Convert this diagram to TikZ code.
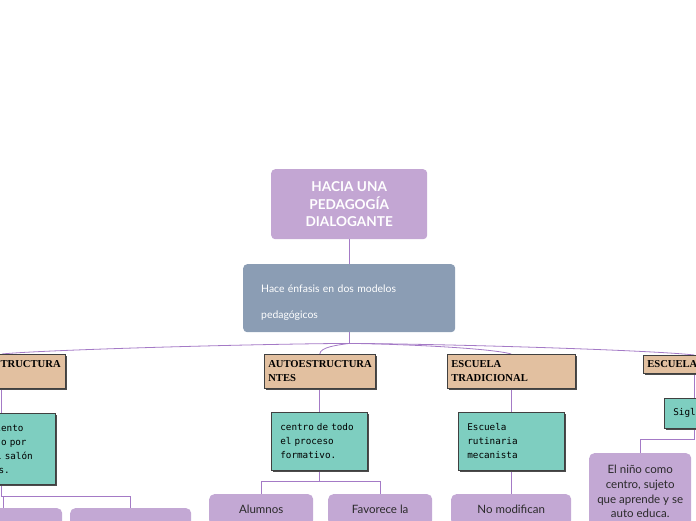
\documentclass[tikz,border=0pt]{standalone}
\usepackage{fontspec}
\setmainfont{Lato}
\newfontfamily\hdrfont{Liberation Serif}
\newfontfamily\tealfont{DejaVu Sans Mono}
\usetikzlibrary{shadows,backgrounds}
\definecolor{rootc}{HTML}{C3A6D3}
\definecolor{subc}{HTML}{8B9DB4}
\definecolor{tanc}{HTML}{E2C0A0}
\definecolor{tealc}{HTML}{7ECEC0}
\definecolor{purpc}{HTML}{C3A8D4}
\definecolor{connc}{HTML}{A47AC6}
\definecolor{txtc}{HTML}{2A2A2A}
\begin{document}
\begin{tikzpicture}[x=1pt,y=-1pt,
  rootbox/.style={fill=rootc, rounded corners=4pt, text=white, align=center,
    font=\fontsize{13.6}{17.5}\selectfont\bfseries, inner sep=0pt,
    minimum width=156pt, minimum height=70pt, anchor=north west},
  subbox/.style={fill=subc, rounded corners=4pt, text=white, align=left,
    font=\fontsize{10.4}{26}\selectfont, inner xsep=18pt, inner ysep=0pt,
    text width=176pt, minimum height=68pt, anchor=north west},
  hdrbox/.style={fill=tanc, draw=black!75, line width=0.6pt,
    general shadow={fill=black!70, shadow xshift=1.6pt, shadow yshift=-1.6pt},
    font=\hdrfont\bfseries\fontsize{10.6}{14}\selectfont, align=left,
    inner xsep=4pt, inner ysep=0pt, minimum height=34pt, anchor=north west},
  tealbox/.style={fill=tealc, draw=black!75, line width=0.6pt,
    general shadow={fill=black!70, shadow xshift=1.6pt, shadow yshift=-1.6pt},
    font=\tealfont\fontsize{9.3}{14}\selectfont, align=left,
    inner xsep=9pt, inner ysep=0pt, anchor=north west},
  purpbox/.style={fill=purpc, rounded corners=5pt, text=txtc, align=center,
    font=\fontsize{11.5}{14.7}\selectfont, inner sep=0pt, anchor=north west},
  conn/.style={draw=connc, line width=0.8pt}
]
\useasboundingbox (0,0) rectangle (696,520);

\node[rootbox] (root) at (271,169) {HACIA UNA\\PEDAGOGÍA\\DIALOGANTE};
\node[subbox] (sub) at (243,264) {\rule{0pt}{17pt}Hace énfasis en dos modelos\\pedagógicos};

\node[hdrbox, text width=119pt] (h1) at (-62,354) {HETEROESTRUCTURA\\NTES};
\node[hdrbox, text width=103pt] (h2) at (264,354) {AUTOESTRUCTURA\\NTES};
\node[hdrbox, text width=120pt] (h3) at (447,354) {ESCUELA\\TRADICIONAL};
\node[hdrbox, text width=94pt, minimum height=18pt] (h4) at (643,355) {ESCUELA};

\node[tealbox, text width=90pt, minimum height=71pt] (t1) at (-53,413) {Conocimiento\\impartido por\\a todo el salón\\de clases.};
\node[tealbox, text width=78pt, minimum height=58pt] (t2) at (271,412) {centro de todo\\el proceso\\formativo.};
\node[tealbox, text width=88pt, minimum height=58pt] (t3) at (458,412) {Escuela\\rutinaria\\mecanista};
\node[tealbox, text width=42pt, minimum height=30pt] (t4) at (664,398) {Siglo};

\node[purpbox, minimum width=118pt, minimum height=30pt] (c1a) at (-56,508) {};
\node[purpbox, minimum width=121pt, minimum height=30pt] (c1b) at (70,508) {};
\node[purpbox, minimum width=104pt, minimum height=31pt] (c2a) at (209,494) {Alumnos};
\node[purpbox, minimum width=104pt, minimum height=31pt] (c2b) at (328,494) {Favorece la};
\node[purpbox, minimum width=120pt, minimum height=31pt] (c3) at (451,494) {No modifican};
\node[purpbox, minimum width=102pt, minimum height=77pt] (c4) at (589,453) {El niño como\\centro, sujeto\\que aprende y se\\auto educa.};

\begin{pgfonlayer}{background}
\draw[conn] (root.south) -- (sub.north);
\draw[conn] (sub.south) -- ++(0,11) coordinate (bj);
\draw[conn] (bj) .. controls (249,344) and (40,350) .. (h1.north);
\draw[conn] (bj) .. controls (338,345) and (320,347) .. (h2.north);
\draw[conn] (bj) .. controls (400,344) and (490,348) .. (h3.north);
\draw[conn] (bj) .. controls (449,344) and (650,350) .. (h4.north);
\draw[conn] (h1.south) -- (h1.south |- t1.north);
\draw[conn] (h2.south) -- (h2.south |- t2.north);
\draw[conn] (h3.south) -- (h3.south |- t3.north);
\draw[conn] (h4.south) -- (h4.south |- t4.north);
\draw[conn] (t1.south) -- ++(0,12) -| (c1a.north);
\draw[conn] (t1.south) -- ++(0,12) -| (c1b.north);
\draw[conn] (t2.south) -- ++(0,11) -| (c2a.north);
\draw[conn] (t2.south) -- ++(0,11) -| (c2b.north);
\draw[conn] (t3.south) -- (t3.south |- c3.north);
\draw[conn] (t4.south) -- ++(0,11) -| (c4.north);
\end{pgfonlayer}
\end{tikzpicture}
\end{document}
